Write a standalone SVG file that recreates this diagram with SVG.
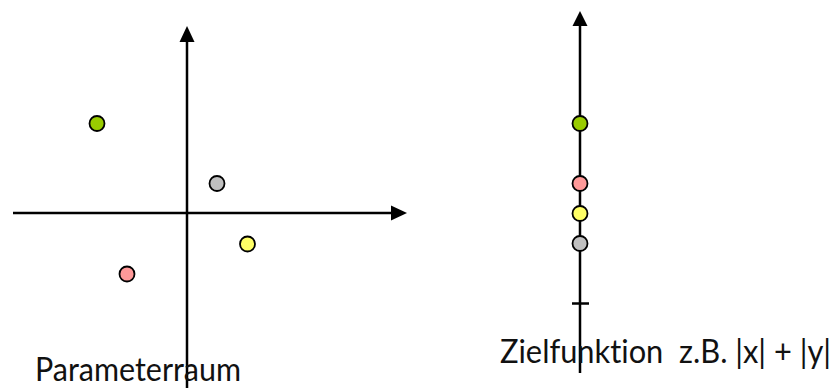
<svg xmlns="http://www.w3.org/2000/svg" width="836" height="388" viewBox="0 0 836 388">
  <style>
    .axis { stroke: #000; stroke-width: 2.5; fill: none; }
    .head { fill: #000; stroke: none; }
    .pt { stroke: #000; stroke-width: 1.8; }
    .lbl { font-family: Lato, "Open Sans", "Liberation Sans", sans-serif; font-weight: 400; font-size: 32px; fill: #111; font-variant-ligatures: none; }
  </style>
  <rect width="836" height="388" fill="#fff"/>

  <!-- axes -->
  <g id="connectors">
    <!-- parameter space: x axis -->
    <line class="axis" x1="13" y1="213" x2="392" y2="213"/>
    <polygon class="head" points="407,213 391,205.5 391,220.5"/>
    <!-- parameter space: y axis -->
    <line class="axis" x1="187" y1="388" x2="187" y2="40"/>
    <polygon class="head" points="187,26 179.5,42 194.5,42"/>
    <!-- objective axis -->
    <line class="axis" x1="580" y1="373" x2="580" y2="24"/>
    <polygon class="head" points="580,11 572.5,26 587.5,26"/>
    <!-- zero tick -->
    <line class="axis" x1="572" y1="303.5" x2="589" y2="303.5"/>
  </g>

  <!-- points in parameter space -->
  <g id="param-green"><circle class="pt" cx="97" cy="123.5" r="7.5" fill="#99cc00"/></g>
  <g id="param-gray"><circle class="pt" cx="217" cy="183.5" r="7.5" fill="#c0c0c0"/></g>
  <g id="param-yellow"><circle class="pt" cx="247.5" cy="244" r="7.5" fill="#ffff66"/></g>
  <g id="param-pink"><circle class="pt" cx="127" cy="274" r="7.5" fill="#ff9999"/></g>

  <!-- same points mapped onto the objective axis -->
  <g id="obj-green"><circle class="pt" cx="580" cy="123.5" r="7.5" fill="#99cc00"/></g>
  <g id="obj-pink"><circle class="pt" cx="580" cy="183.5" r="7.5" fill="#ff9999"/></g>
  <g id="obj-yellow"><circle class="pt" cx="580" cy="213.5" r="7.5" fill="#ffff66"/></g>
  <g id="obj-gray"><circle class="pt" cx="580" cy="243.5" r="7.5" fill="#c0c0c0"/></g>

  <!-- labels -->
  <g id="label-param"><text class="lbl" x="35" y="381" textLength="206" lengthAdjust="spacingAndGlyphs">Parameterraum</text></g>
  <g id="label-obj"><text class="lbl" x="500" y="363" textLength="331" lengthAdjust="spacingAndGlyphs" xml:space="preserve">Zielfunktion  z.B. |x| + |y|</text></g>
</svg>
